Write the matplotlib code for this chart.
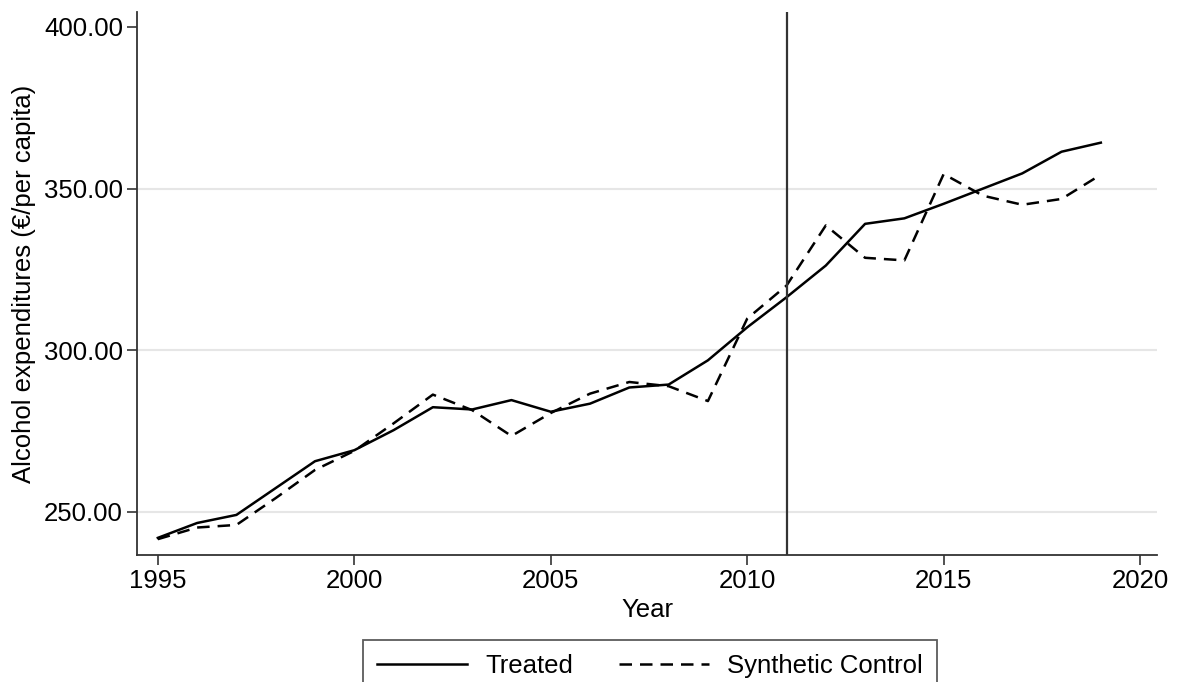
import numpy as np
import matplotlib.pyplot as plt

plt.rcParams['font.family'] = ['Liberation Sans', 'DejaVu Sans']

years = np.arange(1995, 2020)
treated = [242.0, 246.6, 249.1, 257.4, 265.7, 269.1, 275.3, 282.4, 281.7, 284.6,
           281.0, 283.5, 288.5, 289.4, 296.9, 307.1, 316.4, 326.2, 339.1, 340.8,
           345.3, 350.0, 354.7, 361.4, 364.2]
synthetic = [241.6, 245.2, 246.0, 254.3, 263.0, 268.9, 277.4, 286.3, 281.5, 273.5,
             280.6, 286.6, 290.2, 288.9, 284.3, 309.8, 320.0, 338.6, 328.6, 327.8,
             354.5, 347.8, 345.0, 346.8, 354.3]
treat_year = 2011
yticks = [250, 300, 350, 400]
xticks = [1995, 2000, 2005, 2010, 2015, 2020]

fs = 18.5
fig = plt.figure(figsize=(11.78, 6.82), dpi=100)
ax = fig.add_axes([0.1163, 0.1862, 0.8659, 0.7962])

for y in yticks[:-1]:
    ax.axhline(y, color='#e6e6e6', lw=1.5, zorder=0)

ax.plot(years, treated, color='black', lw=1.8, label='Treated')
ax.plot(years, synthetic, color='black', lw=1.8, ls=(0, (5, 3.2)), label='Synthetic Control')
ax.axvline(treat_year, color='#333333', lw=1.6)

ax.set_xlim(1994.47, 2020.43)
ax.set_ylim(236.7, 404.6)
ax.set_xticks(xticks)
ax.set_yticks(yticks)
ax.set_yticklabels([f'{v:.2f}' for v in yticks])
ax.tick_params(labelsize=fs, length=7, width=1.2, color='#333333', pad=3)

for side in ['top', 'right']:
    ax.spines[side].set_visible(False)
for side in ['left', 'bottom']:
    ax.spines[side].set_color('#333333')
    ax.spines[side].set_linewidth(1.3)

ax.set_xlabel('Year', fontsize=fs, labelpad=4)
ax.set_ylabel('Alcohol expenditures (€/per capita)', fontsize=fs, labelpad=6)

handles, labels = ax.get_legend_handles_labels()
leg = fig.legend(handles, labels, loc='upper center', bbox_to_anchor=(0.552, 0.0616),
                 ncol=2, fontsize=fs, frameon=True, fancybox=False,
                 handlelength=3.5, columnspacing=1.8, borderpad=0.55,
                 handletextpad=0.7, borderaxespad=0)
leg.get_frame().set_edgecolor('#333333')
leg.get_frame().set_linewidth(1.3)

fig.savefig('out.png', dpi=100)
